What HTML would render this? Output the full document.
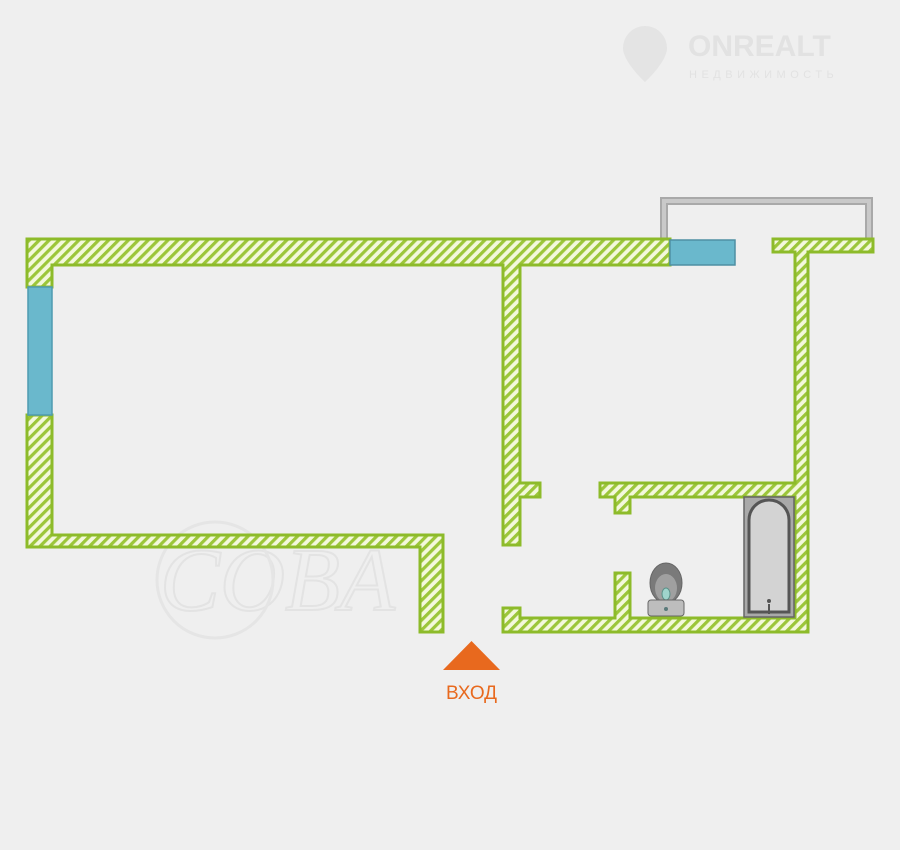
<!DOCTYPE html>
<html><head><meta charset="utf-8"><style>
html,body{margin:0;padding:0;background:#efefef;}
svg{display:block}
</style></head><body>
<svg width="900" height="850" viewBox="0 0 900 850" xmlns="http://www.w3.org/2000/svg">
<defs>
<pattern id="h" patternUnits="userSpaceOnUse" width="7" height="7" patternTransform="rotate(45)">
<rect width="7" height="7" fill="#f3f8dc"/>
<rect width="3.2" height="7" fill="#9cc63a"/>
</pattern>
</defs>
<rect width="900" height="850" fill="#efefef"/>
<!-- logo -->
<g fill="#e6e6e6" font-family="Liberation Sans, sans-serif">
<path d="M645 26 a22 22 0 0 1 22 22 c0 14 -22 34 -22 34 c0 0 -22 -20 -22 -34 a22 22 0 0 1 22 -22z" fill="#e4e4e4"/>
<text x="688" y="56" font-size="30" font-weight="bold" fill="#e2e2e2">ONREALT</text>
<text x="689" y="78" font-size="11" letter-spacing="4.5" fill="#e2e2e2">НЕДВИЖИМОСТЬ</text>
</g>
<!-- watermark -->
<text x="160" y="610" font-family="Liberation Serif, serif" font-style="italic" font-size="90" fill="none" stroke="#e3e3e3" stroke-width="2">COBA</text>
<circle cx="215" cy="580" r="58" fill="none" stroke="#e5e5e5" stroke-width="3"/>
<!-- balcony -->
<path d="M664 239 V201 H869 V239" fill="none" stroke="#a9a9a9" stroke-width="8"/>
<path d="M664 239 V201 H869 V239" fill="none" stroke="#c9c9c9" stroke-width="4"/>
<!-- walls outline -->
<g fill="#9cc63a" stroke="#8dbb2a" stroke-width="3">
<rect x="27" y="239" width="643" height="26"/>
<rect x="27" y="239" width="25" height="48"/>
<rect x="27" y="415" width="25" height="132"/>
<rect x="27" y="535" width="416" height="12"/>
<rect x="420" y="535" width="23" height="97"/>
<rect x="503" y="265" width="17" height="280"/>
<rect x="503" y="483" width="37" height="14"/>
<rect x="503" y="608" width="17" height="24"/>
<rect x="503" y="618" width="305" height="14"/>
<rect x="773" y="239" width="100" height="13"/>
<rect x="795" y="239" width="13" height="393"/>
<rect x="600" y="483" width="208" height="14"/>
<rect x="615" y="483" width="15" height="30"/>
<rect x="615" y="573" width="15" height="50"/>
</g>
<g fill="url(#h)">
<rect x="28.5" y="240.5" width="640" height="23"/>
<rect x="28.5" y="240.5" width="22" height="45"/>
<rect x="28.5" y="416.5" width="22" height="129"/>
<rect x="28.5" y="536.5" width="413" height="9"/>
<rect x="421.5" y="536.5" width="20" height="94"/>
<rect x="504.5" y="263" width="14" height="280.5"/>
<rect x="504.5" y="484.5" width="34" height="11"/>
<rect x="504.5" y="609.5" width="14" height="21"/>
<rect x="504.5" y="619.5" width="302" height="11"/>
<rect x="774.5" y="240.5" width="97" height="10"/>
<rect x="796.5" y="240.5" width="10" height="390"/>
<rect x="601.5" y="484.5" width="205" height="11"/>
<rect x="616.5" y="484.5" width="12" height="27"/>
<rect x="616.5" y="574.5" width="12" height="46"/>
</g>
<!-- windows -->
<rect x="28" y="287" width="24" height="128" fill="#6ab8cc" stroke="#4e9bb0" stroke-width="1.5"/>
<rect x="670" y="240" width="65" height="25" fill="#6ab8cc" stroke="#4e8fa3" stroke-width="1.5"/>
<!-- bath -->
<rect x="744" y="497" width="50" height="120" fill="#a9a9a9" stroke="#666" stroke-width="1.5"/>
<path d="M749 612 V520 a20 20 0 0 1 40 0 V612 Z" fill="#d3d3d3" stroke="#555" stroke-width="3"/>
<line x1="769" y1="604" x2="769" y2="614" stroke="#555" stroke-width="2"/>
<circle cx="769" cy="601" r="2" fill="#555"/>
<!-- toilet -->
<ellipse cx="666" cy="583" rx="16" ry="20" fill="#7a7a7a" stroke="#666"/>
<ellipse cx="666" cy="588" rx="11" ry="14" fill="#a0a0a0"/>
<ellipse cx="666" cy="594" rx="4" ry="6" fill="#9fd4cc" stroke="#5a8f87"/>
<rect x="648" y="600" width="36" height="16" rx="3" fill="#bdbdbd" stroke="#666"/>
<circle cx="666" cy="609" r="2" fill="#5a7a7a"/>
<!-- entry -->
<polygon points="443,670 500,670 471.5,641" fill="#e8691e"/>
<text x="471.5" y="699" text-anchor="middle" font-family="Liberation Sans, sans-serif" font-size="19" fill="#e8691e">ВХОД</text>
</svg>
</body></html>
